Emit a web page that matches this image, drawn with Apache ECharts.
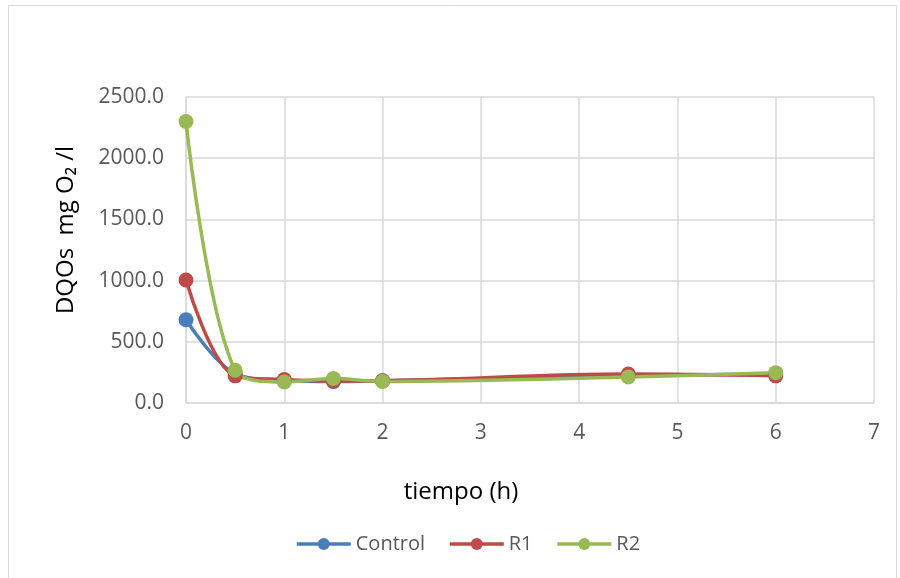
<!DOCTYPE html>
<html>
<head>
<meta charset="utf-8">
<script src="https://cdn.jsdelivr.net/npm/echarts@6/dist/echarts.min.js"></script>
<style>
  html, body { margin: 0; padding: 0; background: #fff; }
  #chart { width: 900px; height: 578px; }
</style>
</head>
<body>
<div id="chart"></div>
<script>
// Sampling times (h)
const tiempo = [0, 0.5, 1, 1.5, 2, 4.5, 6];
// Soluble COD (mg O2/l) per reactor
const control = [680, 240, 185, 175, 182, 225, 235];
const r1 = [1005, 222, 192, 180, 182, 236, 222];
const r2 = [2300, 268, 172, 200, 176, 212, 248];

const yTicks = [0, 500, 1000, 1500, 2000, 2500];
const xTicks = [0, 1, 2, 3, 4, 5, 6, 7];

const fontFam = '"Open Sans", "Noto Sans", sans-serif';

function pairs(vals) {
  return tiempo.map((t, i) => [t, vals[i]]);
}

function makeSeries(name, vals, color) {
  return {
    name: name,
    type: 'line',
    data: pairs(vals),
    smooth: 0.35,
    symbol: 'circle',
    symbolSize: 15,
    lineStyle: { width: 3.5, color: color },
    itemStyle: { color: color },
    emphasis: { disabled: true }
  };
}

const chart = echarts.init(document.getElementById('chart'), null, { renderer: 'canvas' });

chart.setOption({
  animation: false,
  backgroundColor: '#ffffff',
  textStyle: { fontFamily: fontFam },
  graphic: [{
    type: 'rect',
    shape: { x: 8.5, y: 5.5, width: 888, height: 580 },
    style: { fill: 'none', stroke: '#d9d9d9', lineWidth: 1 },
    silent: true
  }],
  grid: { left: 186, right: 26, top: 97, bottom: 175 },
  legend: {
    top: 529,
    left: 290,
    itemWidth: 54,
    itemHeight: 15,
    itemGap: 23,
    lineStyle: { width: 3.5 },
    textStyle: { fontSize: 20, color: '#595959', fontFamily: fontFam },
    data: ['Control', 'R1', 'R2']
  },
  xAxis: {
    type: 'value',
    min: xTicks[0],
    max: xTicks[xTicks.length - 1],
    interval: 1,
    name: 'tiempo (h)',
    nameLocation: 'middle',
    nameGap: 77,
    nameTextStyle: {
      fontSize: 24, color: '#000000', fontFamily: fontFam,
      padding: [0, 138, 0, 0]
    },
    axisLine: { lineStyle: { color: '#d9d9d9', width: 1.5 } },
    axisTick: { show: false },
    axisLabel: { fontSize: 21, color: '#595959', margin: 20, fontFamily: fontFam },
    splitLine: { show: true, lineStyle: { color: '#d9d9d9', width: 1.5 } }
  },
  yAxis: {
    type: 'value',
    min: yTicks[0],
    max: yTicks[yTicks.length - 1],
    interval: 500,
    name: 'DQOs  mg O₂ /l',
    nameLocation: 'middle',
    nameRotate: 90,
    nameGap: 108,
    nameTextStyle: {
      fontSize: 24, color: '#000000', fontFamily: fontFam,
      padding: [0, 0, 0, 40]
    },
    axisLine: { show: true, lineStyle: { color: '#d9d9d9', width: 1.5 } },
    axisTick: { show: false },
    axisLabel: {
      fontSize: 21, color: '#595959', margin: 22, fontFamily: fontFam,
      formatter: v => v.toFixed(1)
    },
    splitLine: { show: true, lineStyle: { color: '#d9d9d9', width: 1.5 } }
  },
  series: [
    makeSeries('Control', control, '#4a7ebb'),
    makeSeries('R1', r1, '#be4b48'),
    makeSeries('R2', r2, '#98b954')
  ]
});
</script>
</body>
</html>
